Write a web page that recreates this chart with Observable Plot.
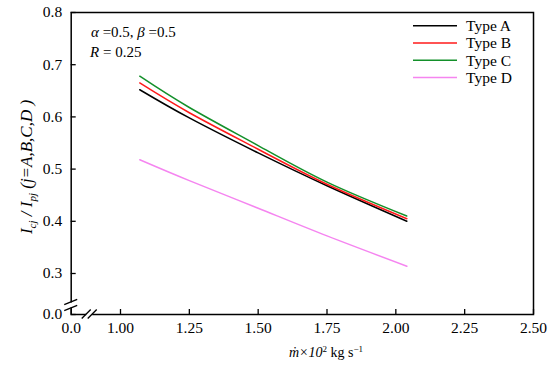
<!DOCTYPE html>
<html><head><meta charset="utf-8">
<script src="https://cdn.jsdelivr.net/npm/d3@7"></script>
<script src="https://cdn.jsdelivr.net/npm/@observablehq/plot@0.6"></script>
<style>body{margin:0;background:#fff} #chart svg, #chart svg text{font-family:"Liberation Serif","DejaVu Serif",serif !important}</style>
</head><body><div id="chart"></div>
<script>
// ---- data ----
const massFlow = [1.07, 1.25, 1.5, 1.75, 2.04];
const typeA = [0.652, 0.598, 0.531, 0.468, 0.400];
const typeB = [0.665, 0.608, 0.538, 0.471, 0.405];
const typeC = [0.678, 0.618, 0.545, 0.475, 0.410];
const typeD = [0.518, 0.478, 0.425, 0.372, 0.314];
const seriesNames = ["Type A", "Type B", "Type C", "Type D"];
const seriesColors = ["#000000", "#ff1a1a", "#13902a", "#f585f0"];
const xTicks = [1, 1.25, 1.5, 1.75, 2, 2.25, 2.5];
const xTickLabels = ["1.00", "1.25", "1.50", "1.75", "2.00", "2.25", "2.50"];
const yTicks = [0.3, 0.4, 0.5, 0.6, 0.7, 0.8];
const yTickLabels = ["0.3", "0.4", "0.5", "0.6", "0.7", "0.8"];
const originLabel = "0.0"; // shown at the broken-axis origin of both axes

const seriesValues = [typeA, typeB, typeC, typeD];
const data = seriesNames.flatMap((name, i) =>
  massFlow.map((m, j) => ({type: name, m, v: seriesValues[i][j]})));

const W = 550, H = 365;
const ml = 70.7, mr = 17, mt = 12, mb = 51;
const serif = "'Liberation Serif', 'DejaVu Serif', serif";

// broken axes: the origin sits a short gap before the first real tick
const xPerUnit = (W - mr - ml - 49.3) / (2.5 - 1);
const xLo = 1 - 49.3 / xPerUnit;
const yPerUnit = (H - mb - 41 - mt) / (0.8 - 0.3);
const yLo = 0.3 - 41 / yPerUnit;
const xAxisTicks = [xLo, ...xTicks];
const xAxisLabels = [originLabel, ...xTickLabels];
const yAxisTicks = [yLo, ...yTicks];
const yAxisLabels = [originLabel, ...yTickLabels];

const plot = Plot.plot({
  width: W, height: H,
  marginLeft: ml, marginRight: mr, marginTop: mt, marginBottom: mb,
  style: {fontFamily: serif, fontSize: "15px", color: "#000", background: "#fff"},
  x: {type: "linear", domain: [xLo, 2.5]},
  y: {type: "linear", domain: [yLo, 0.8]},
  color: {domain: seriesNames, range: seriesColors},
  marks: [
    Plot.axisX(xAxisTicks, {tickSize: -5, tickPadding: 12, strokeWidth: 1.3,
      tickFormat: d => xAxisLabels[xAxisTicks.indexOf(d)], label: null, fontSize: 15.5}),
    Plot.axisY(yAxisTicks, {tickSize: -5, tickPadding: 14, strokeWidth: 1.3,
      tickFormat: d => yAxisLabels[yAxisTicks.indexOf(d)], label: null, fontSize: 15.5}),
    Plot.line(data, {x: "m", y: "v", z: "type", stroke: "type", strokeWidth: 1.5, curve: "natural"}),
    Plot.frame({stroke: "#000", strokeWidth: 1.5})
  ]
});

document.getElementById("chart").appendChild(plot);

const sx = plot.scale("x"), sy = plot.scale("y");
const svg = d3.select(plot);
const x0 = sx.apply(xLo), y0 = sy.apply(yLo);

// axis breaks (between origin and first tick)
const bx = x0 + 18.5, by = y0 - 9;
svg.append("rect").attr("x", bx - 3).attr("y", y0 - 2).attr("width", 6).attr("height", 4).attr("fill", "#fff");
svg.append("rect").attr("x", x0 - 2).attr("y", by - 2.5).attr("width", 4).attr("height", 5).attr("fill", "#fff");
for (const d of [-3, 3]) {
  svg.append("line").attr("x1", bx + d - 4.5).attr("y1", y0 + 4.5).attr("x2", bx + d + 4.5).attr("y2", y0 - 4.5)
    .attr("stroke", "#000").attr("stroke-width", 1.3);
  svg.append("line").attr("x1", x0 - 6.5).attr("y1", by + d + 2.7).attr("x2", x0 + 6.5).attr("y2", by + d - 2.7)
    .attr("stroke", "#000").attr("stroke-width", 1.3);
}

// legend
seriesNames.forEach((name, i) => {
  const yy = 25.7 + i * 17.3;
  svg.append("line").attr("x1", 413).attr("x2", 457).attr("y1", yy).attr("y2", yy)
    .attr("stroke", seriesColors[i]).attr("stroke-width", 1.5);
  svg.append("text").attr("x", 466).attr("y", yy).attr("dy", "0.35em").attr("text-anchor", "start")
    .attr("font-family", serif).attr("font-size", 15.5).text(name);
});

// annotation
const ann1 = svg.append("text").attr("x", 91).attr("y", 37).attr("text-anchor", "start")
  .attr("font-family", serif).attr("font-size", 15);
ann1.append("tspan").attr("font-style", "italic").text("α");
ann1.append("tspan").text(" =0.5, ");
ann1.append("tspan").attr("font-style", "italic").text("β");
ann1.append("tspan").text(" =0.5");
const ann2 = svg.append("text").attr("x", 90).attr("y", 57).attr("text-anchor", "start")
  .attr("font-family", serif).attr("font-size", 15);
ann2.append("tspan").attr("font-style", "italic").text("R");
ann2.append("tspan").text(" = 0.25");

// x axis title
const xl = svg.append("text").attr("x", 326).attr("y", 357).attr("text-anchor", "middle")
  .attr("font-family", serif).attr("font-size", 14);
xl.append("tspan").attr("font-style", "italic").text("ṁ×10");
xl.append("tspan").attr("font-size", 9).attr("dy", -5).text("2");
xl.append("tspan").attr("dy", 5).text(" kg s");
xl.append("tspan").attr("font-size", 9).attr("dy", -5).text("−1");

// y axis title
const yl = svg.append("text").attr("transform", "translate(32,167) rotate(-90)").attr("text-anchor", "middle")
  .attr("font-family", serif).attr("font-size", 17).attr("font-style", "italic");
yl.append("tspan").text("I");
yl.append("tspan").attr("font-size", 11).attr("dy", 4).text("cj");
yl.append("tspan").attr("dy", -4).text(" / I");
yl.append("tspan").attr("font-size", 11).attr("dy", 4).text("pj");
yl.append("tspan").attr("dy", -4).text(" (j=A,B,C,D )");
</script>
</body></html>
